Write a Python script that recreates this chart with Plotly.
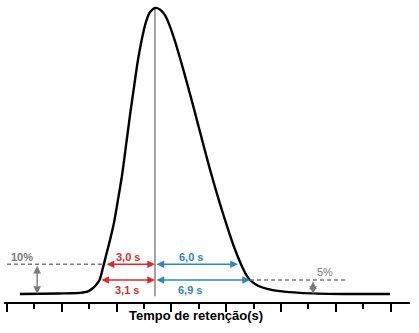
import plotly.graph_objects as go

# Chromatographic peak (time in tick units, signal in % of peak height)
curve_t = [0.47, 1.93, 2.66, 2.96, 3.14, 3.28, 3.39, 3.50, 3.61, 3.76, 3.91, 4.05, 4.20, 4.34,
           4.49, 4.64, 4.78, 4.93, 5.07, 5.22, 5.40,
           5.58, 5.77, 5.95, 6.13, 6.31, 6.50, 6.68, 6.86, 7.04, 7.23, 7.41, 7.59, 7.77, 8.03,
           8.28, 8.54, 8.72, 8.87, 9.16, 9.49, 9.96, 10.69, 12.26, 13.98]
curve_s = [0.0, 0.2, 0.4, 0.9, 2.1, 3.5, 5.2, 9.1, 13.3, 18.9, 25.2, 32.9, 41.6, 51.7,
           62.6, 72.7, 81.8, 89.5, 95.1, 98.6, 100.0,
           99.5, 97.4, 93.5, 88.4, 82.6, 76.2, 69.9, 63.4, 56.8, 49.9, 43.5, 37.4, 31.6, 23.7,
           16.6, 10.4, 6.9, 4.9, 2.9, 1.8, 1.0, 0.4, 0.0, 0.0]

peak_t = 5.40
level_10 = 10.4
level_5 = 4.9
front_10, tail_10 = 3.58, 8.43
front_5, tail_5 = 3.39, 8.87
label_front_10, label_tail_10 = "3,0 s", "6,0 s"
label_front_5, label_tail_5 = "3,1 s", "6,9 s"
ticks = list(range(0, 15))

RED = "#d92b30"
BLUE = "#2f86bd"
GRAY = "#7a7a7a"

fig = go.Figure()
fig.add_trace(go.Scatter(x=curve_t, y=curve_s, mode="lines",
                         line=dict(color="black", width=2.4, shape="spline", smoothing=0.6),
                         hoverinfo="skip"))

shapes = []
shapes.append(dict(type="line", x0=peak_t, x1=peak_t, y0=-0.8, y1=100, line=dict(color="#888888", width=1.5), layer="below"))
shapes.append(dict(type="line", x0=0.0, x1=3.52, y0=level_10, y1=level_10, line=dict(color=GRAY, width=1.5, dash="4px,3px")))
shapes.append(dict(type="line", x0=tail_5, x1=12.4, y0=level_5, y1=level_5, line=dict(color=GRAY, width=1.5, dash="4px,3px")))
fig.update_layout(shapes=shapes)

def darrow(x0, y0, x1, y1, color):
    fig.add_annotation(x=x1, y=y1, ax=x0, ay=y0, xref="x", yref="y", axref="x", ayref="y",
                       text="", showarrow=True, arrowhead=2, startarrowhead=2, arrowside="end+start",
                       arrowsize=1.1, startarrowsize=1.1, arrowwidth=1.4, arrowcolor=color)

darrow(front_10, level_10, peak_t, level_10, RED)
darrow(front_5, level_5, peak_t, level_5, RED)
darrow(peak_t, level_10, tail_10, level_10, BLUE)
darrow(peak_t, level_5, tail_5, level_5, BLUE)
darrow(1.10, level_10, 1.10, 0.0, GRAY)
darrow(11.17, level_5, 11.17, 0.0, GRAY)

def label(x, y, text, color, bold=True):
    fig.add_annotation(x=x, y=y, xref="x", yref="y", text=f"<b>{text}</b>" if bold else text,
                       showarrow=False, font=dict(family="Liberation Sans, Arial", size=11, color=color))

label((front_10 + peak_t) / 2 - 0.08, 12.9, label_front_10, RED)
label((front_5 + peak_t) / 2 - 0.0, 1.3, label_front_5, RED)
label((peak_t + tail_10) / 2 - 0.2, 12.9, label_tail_10, BLUE)
label((peak_t + tail_5) / 2 - 0.45, 1.3, label_tail_5, BLUE)
label(0.55, 12.9, "10%", GRAY)
label(11.6, 7.6, "5%", GRAY, bold=False)

fig.add_annotation(x=0.474, y=-0.046, xref="paper", yref="paper", text="<b>Tempo de retenção(s)</b>",
                   showarrow=False, yanchor="middle", xanchor="center",
                   font=dict(family="Liberation Sans, Arial", size=13, color="black"))

fig.update_layout(
    width=419, height=333,
    margin=dict(l=4, r=9, t=0, b=31),
    paper_bgcolor="white", plot_bgcolor="white",
    showlegend=False,
    xaxis=dict(range=[-0.1095, 14.708], showgrid=False, zeroline=False, showline=True, linecolor="black", linewidth=2,
               tickmode="array", tickvals=ticks[::2], ticks="outside", ticklen=8, tickwidth=2, tickcolor="black",
               showticklabels=False,
               minor=dict(tickmode="array", tickvals=ticks[1::2], ticks="outside", ticklen=5, tickwidth=2, tickcolor="black")),
    yaxis=dict(range=[-2.797, 102.797], visible=False),
)

fig.write_html("out.html")
